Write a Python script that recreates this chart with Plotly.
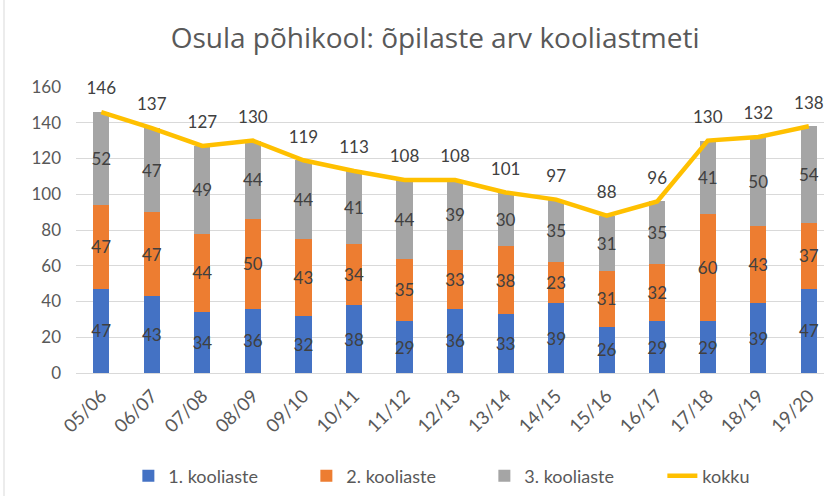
import plotly.graph_objects as go

categories = ["05/06", "06/07", "07/08", "08/09", "09/10", "10/11", "11/12", "12/13",
              "13/14", "14/15", "15/16", "16/17", "17/18", "18/19", "19/20"]
aste1 = [47, 43, 34, 36, 32, 38, 29, 36, 33, 39, 26, 29, 29, 39, 47]
aste2 = [47, 47, 44, 50, 43, 34, 35, 33, 38, 23, 31, 32, 60, 43, 37]
aste3 = [52, 47, 49, 44, 44, 41, 44, 39, 30, 35, 31, 35, 41, 50, 54]
kokku = [146, 137, 127, 130, 119, 113, 108, 108, 101, 97, 88, 96, 130, 132, 138]

FONT = "Lato, Open Sans, sans-serif"
lbl = dict(family=FONT, size=17, color="#404040")

fig = go.Figure()
for name, vals, col in [("1. kooliaste", aste1, "#4472C4"),
                        ("2. kooliaste", aste2, "#ED7D31"),
                        ("3. kooliaste", aste3, "#A5A5A5")]:
    fig.add_trace(go.Bar(
        x=categories, y=vals, name=name, marker=dict(color=col, line=dict(width=0)),
        text=[str(v) for v in vals], textposition="inside", insidetextanchor="middle",
        textangle=0, constraintext="none", insidetextfont=lbl, cliponaxis=False,
    ))
fig.add_trace(go.Scatter(
    x=categories, y=kokku, name="kokku", mode="lines+markers+text",
    line=dict(color="#FFC000", width=4.5),
    marker=dict(size=20, color="rgba(0,0,0,0)"),
    text=[str(v) for v in kokku], textposition="top center", textfont=lbl,
    cliponaxis=False,
))

fig.update_layout(
    width=824, height=496,
    barmode="stack", bargap=0.68,
    paper_bgcolor="white", plot_bgcolor="white",
    margin=dict(l=76, r=0, t=87, b=123, autoexpand=False),
    font=dict(family=FONT, color="#595959"),
    title=dict(text="Osula põhikool: õpilaste arv kooliastmeti", x=0.528, xanchor="center",
               y=0.922, yanchor="middle", automargin=False,
               font=dict(size=28, color="#595959", family="Open Sans, sans-serif")),
    showlegend=True,
    legend=dict(orientation="h", x=0.07, xanchor="left", y=-0.36, yanchor="middle",
                font=dict(size=18, color="#595959", family=FONT),
                entrywidth=133, entrywidthmode="pixels", traceorder="normal"),
    xaxis=dict(range=[-0.5, 14.3], tickangle=-45, tickfont=dict(size=18.5, color="#595959"),
               showline=True, linecolor="#D9D9D9", linewidth=1, ticks="", showgrid=False,
               ticklabelstandoff=4, automargin=False),
    yaxis=dict(range=[0, 160], dtick=20, tickfont=dict(size=17, color="#595959"),
               gridcolor="#D9D9D9", gridwidth=1, showline=False, zeroline=False,
               ticklabelstandoff=14, automargin=False),
    shapes=[dict(type="line", xref="paper", yref="paper", x0=-72/748, x1=-72/748,
                 y0=-0.5, y1=1.5, line=dict(color="#D9D9D9", width=1))],
)
fig.write_html("out.html", config={"displayModeBar": False},
               post_script="document.body.style.margin='0';document.body.style.overflow='hidden';")
